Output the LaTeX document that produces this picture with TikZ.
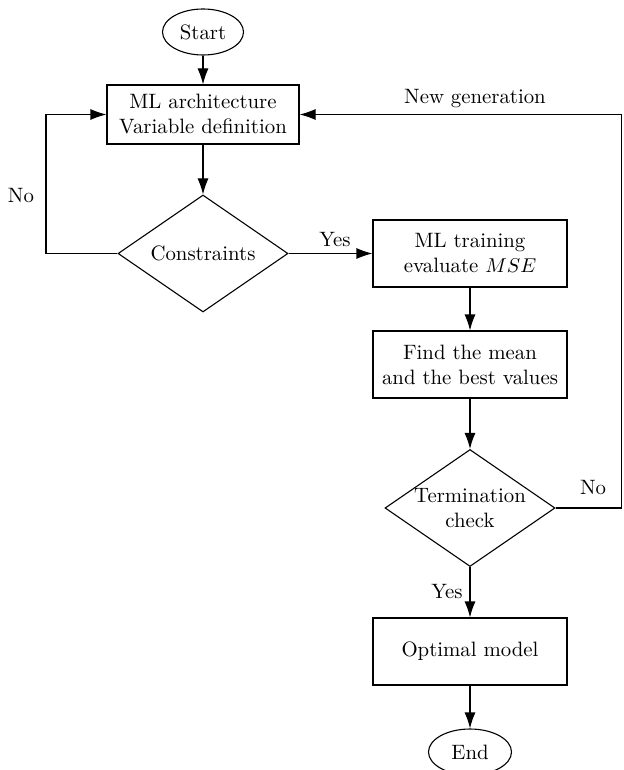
\documentclass[tikz,border=0pt]{standalone}
\usetikzlibrary{shapes.geometric,arrows.meta}
\begin{document}
\begin{tikzpicture}[x=0.5pt,y=-0.5pt,
  every node/.style={font=\fontsize{10.4pt}{12.5pt}\selectfont},
  procbox/.style={draw,line width=0.55pt,minimum width=97pt,minimum height=33.5pt,align=center,inner sep=2pt},
  termin/.style={draw,ellipse,line width=0.55pt,minimum width=40.5pt,minimum height=23pt,inner sep=1pt},
  decide/.style={draw,diamond,aspect=1.45,line width=0.55pt,minimum width=85pt,minimum height=58.5pt,inner sep=0pt,align=center},
  arr/.style={line width=0.55pt,-{Latex[length=8pt,width=5.5pt]}},
  plain/.style={line width=0.55pt}]
\useasboundingbox (0,0) rectangle (623,770);
\node[termin] (start) at (203,32) {Start};
\node[procbox,minimum width=96pt,minimum height=29.5pt] (arch) at (203,114.5) {ML architecture\\Variable definition};
\node[decide] (cons) at (203,253.5) {Constraints};
\node[procbox] (train) at (470,253.5) {ML training\\evaluate $MSE$};
\node[procbox] (find) at (470,364.5) {Find the mean\\and the best values};
\node[decide] (term) at (470,508) {Termination\\check};
\node[procbox] (opt) at (470,651.5) {Optimal model};
\node[termin,minimum width=41.5pt] (end) at (470,752) {End};
\coordinate (lc) at (46,114.5);
\coordinate (rc) at (621.5,114.5);
\draw[arr] (start) -- (arch);
\draw[arr] (arch.south) -- (cons.north);
\draw[arr] (cons.west) -| (lc) -- (arch.west);
\draw[arr] (cons.east) -- (train.west);
\draw[arr] (train) -- (find);
\draw[arr] (find) -- (term.north);
\draw[arr] (term.south) -- (opt);
\draw[arr] (opt) -- (end);
\draw[arr] (term.east) -| (rc) -- (arch.east);
\node (lno) at (21,196) {No};
\node (lyes) at (335,240) {Yes};
\node (rno) at (593,488) {No};
\node (ryes) at (447,592) {Yes};
\node (lnew) at (475,99) {New generation};
\end{tikzpicture}
\end{document}
